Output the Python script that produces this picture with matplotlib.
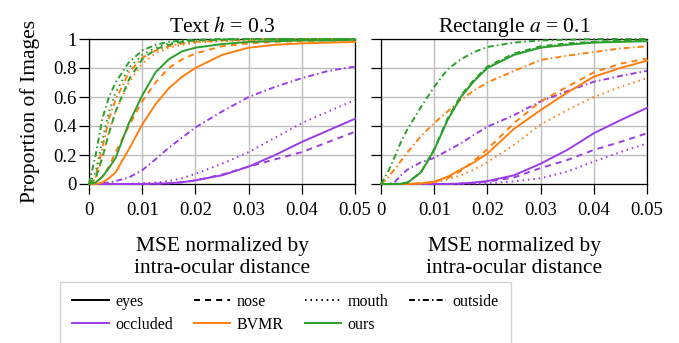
import matplotlib
matplotlib.use('Agg')
import matplotlib.pyplot as plt
from matplotlib.lines import Line2D

plt.rcParams['font.family'] = ['Liberation Serif', 'DejaVu Serif']
plt.rcParams['mathtext.fontset'] = 'stix'

# MSE sample positions
mse = [0, 0.00125, 0.0025, 0.00375, 0.005, 0.0075, 0.01, 0.0125, 0.015,
       0.0175, 0.02, 0.025, 0.03, 0.035, 0.04, 0.045, 0.05]

# Text h = 0.3
text_occ_eyes = [0, 0, 0, 0, 0, 0, 0, 0.002, 0.005, 0.012, 0.025, 0.06, 0.12, 0.2, 0.29, 0.37, 0.45]
text_occ_nose = [0, 0, 0, 0, 0, 0, 0, 0.002, 0.005, 0.012, 0.025, 0.065, 0.12, 0.17, 0.22, 0.29, 0.36]
text_occ_mouth = [0, 0, 0, 0, 0, 0.002, 0.005, 0.01, 0.02, 0.04, 0.07, 0.14, 0.22, 0.32, 0.42, 0.5, 0.58]
text_occ_out = [0, 0, 0.005, 0.01, 0.02, 0.045, 0.095, 0.17, 0.25, 0.32, 0.39, 0.5, 0.6, 0.67, 0.73, 0.78, 0.81]
text_bv_eyes = [0, 0, 0.01, 0.04, 0.08, 0.24, 0.41, 0.55, 0.66, 0.74, 0.8, 0.89, 0.94, 0.96, 0.97, 0.975, 0.98]
text_bv_nose = [0, 0.01, 0.05, 0.12, 0.22, 0.4, 0.57, 0.7, 0.8, 0.86, 0.9, 0.95, 0.97, 0.98, 0.985, 0.99, 0.99]
text_bv_mouth = [0, 0.03, 0.18, 0.36, 0.5, 0.7, 0.83, 0.9, 0.94, 0.96, 0.975, 0.985, 0.99, 0.995, 1, 1, 1]
text_bv_out = [0, 0.05, 0.25, 0.45, 0.58, 0.77, 0.87, 0.92, 0.95, 0.97, 0.98, 0.99, 0.995, 1, 1, 1, 1]
text_ours_eyes = [0, 0.01, 0.05, 0.11, 0.18, 0.42, 0.61, 0.77, 0.86, 0.915, 0.94, 0.965, 0.98, 0.985, 0.99, 0.99, 0.995]
text_ours_nose = [0, 0.04, 0.18, 0.35, 0.5, 0.72, 0.86, 0.93, 0.96, 0.98, 0.99, 0.995, 1, 1, 1, 1, 1]
text_ours_mouth = [0, 0.08, 0.3, 0.5, 0.63, 0.8, 0.89, 0.94, 0.97, 0.98, 0.99, 0.995, 1, 1, 1, 1, 1]
text_ours_out = [0, 0.2, 0.45, 0.6, 0.7, 0.84, 0.92, 0.96, 0.98, 0.99, 0.995, 1, 1, 1, 1, 1, 1]

# Rectangle a = 0.1
rect_occ_eyes = [0, 0, 0, 0, 0, 0, 0, 0, 0.003, 0.01, 0.02, 0.06, 0.14, 0.235, 0.35, 0.44, 0.525]
rect_occ_nose = [0, 0, 0, 0, 0, 0, 0, 0, 0.003, 0.008, 0.017, 0.045, 0.11, 0.165, 0.235, 0.29, 0.35]
rect_occ_mouth = [0, 0, 0, 0, 0, 0, 0, 0, 0, 0.002, 0.005, 0.018, 0.04, 0.085, 0.155, 0.22, 0.28]
rect_occ_out = [0, 0, 0.01, 0.06, 0.1, 0.15, 0.18, 0.23, 0.28, 0.34, 0.395, 0.475, 0.57, 0.64, 0.705, 0.745, 0.78]
rect_bv_eyes = [0, 0, 0, 0, 0, 0.005, 0.015, 0.05, 0.1, 0.15, 0.21, 0.38, 0.51, 0.63, 0.74, 0.8, 0.85]
rect_bv_nose = [0, 0, 0, 0, 0, 0.005, 0.015, 0.04, 0.09, 0.16, 0.24, 0.42, 0.57, 0.67, 0.77, 0.83, 0.865]
rect_bv_mouth = [0, 0, 0, 0, 0, 0, 0.01, 0.03, 0.06, 0.1, 0.15, 0.27, 0.41, 0.51, 0.6, 0.67, 0.73]
rect_bv_out = [0, 0.04, 0.1, 0.16, 0.22, 0.33, 0.42, 0.5, 0.58, 0.645, 0.7, 0.78, 0.855, 0.885, 0.91, 0.935, 0.95]
rect_ours_eyes = [0, 0, 0, 0.002, 0.01, 0.08, 0.235, 0.44, 0.6, 0.71, 0.8, 0.89, 0.94, 0.96, 0.975, 0.98, 0.985]
rect_ours_nose = [0, 0, 0, 0.002, 0.01, 0.08, 0.24, 0.45, 0.61, 0.72, 0.81, 0.9, 0.95, 0.97, 0.98, 0.99, 0.99]
rect_ours_mouth = [0, 0, 0, 0.002, 0.01, 0.08, 0.235, 0.44, 0.6, 0.715, 0.805, 0.895, 0.945, 0.965, 0.98, 0.985, 0.99]
rect_ours_out = [0, 0.08, 0.18, 0.29, 0.38, 0.53, 0.67, 0.79, 0.86, 0.91, 0.945, 0.975, 0.99, 0.995, 1, 1, 1]

regions = ['eyes', 'nose', 'mouth', 'outside']
methods = ['occluded', 'BVMR', 'ours']
titles = ['Text $h$ = 0.3', 'Rectangle $a$ = 0.1']
xticks = [0, 0.01, 0.02, 0.03, 0.04, 0.05]
xticklabels = ['0', '0.01', '0.02', '0.03', '0.04', '0.05']
yticks = [0, 0.2, 0.4, 0.6, 0.8, 1]
yticklabels = ['0', '0.2', '0.4', '0.6', '0.8', '1']

panels = [
    {'occluded': [text_occ_eyes, text_occ_nose, text_occ_mouth, text_occ_out],
     'BVMR': [text_bv_eyes, text_bv_nose, text_bv_mouth, text_bv_out],
     'ours': [text_ours_eyes, text_ours_nose, text_ours_mouth, text_ours_out]},
    {'occluded': [rect_occ_eyes, rect_occ_nose, rect_occ_mouth, rect_occ_out],
     'BVMR': [rect_bv_eyes, rect_bv_nose, rect_bv_mouth, rect_bv_out],
     'ours': [rect_ours_eyes, rect_ours_nose, rect_ours_mouth, rect_ours_out]},
]

colores = {'occluded': '#9b3de6', 'BVMR': '#ff7f0e', 'ours': '#2ca02c'}
estilos = {'eyes': '-', 'nose': (0, (3.1, 2.6)), 'mouth': (0, (0.8, 2.0)),
           'outside': (0, (3.1, 1.6, 0.8, 1.6))}
lw = 1.4

fig = plt.figure(figsize=(6.79, 3.43), dpi=100)
ax_left = [89 / 679, 381 / 679]
for k, datos in enumerate(panels):
    ax = fig.add_axes([ax_left[k], 1 - 184 / 343, 266 / 679, 145 / 343])
    for m in methods:
        for r, serie in zip(regions, datos[m]):
            ax.plot(mse, serie, color=colores[m], linestyle=estilos[r], lw=lw,
                    clip_on=False, zorder=3)
    ax.set_xlim(0, 0.05)
    ax.set_ylim(0, 1)
    ax.set_xticks(xticks)
    ax.set_xticklabels(xticklabels)
    ax.set_yticks(yticks)
    if k == 0:
        ax.set_yticklabels(yticklabels)
        ax.set_ylabel('Proportion of Images', fontsize=15.5, labelpad=9)
    else:
        ax.set_yticklabels([])
    ax.grid(True, color='#bdbdbd', lw=1.0, zorder=0)
    ax.tick_params(direction='out', length=7.5, width=0.9, labelsize=13.5)
    ax.tick_params(axis='x', pad=5.5)
    ax.tick_params(axis='y', pad=1.5)
    for s in ax.spines.values():
        s.set_linewidth(0.9)
    ax.set_title(titles[k], fontsize=15.5, pad=5)
    ax.set_xlabel('MSE normalized by\nintra-ocular distance', fontsize=15.5,
                  labelpad=13, linespacing=1.2)

# Leyenda
handles = []
labels = []
orden = [('eyes', None), ('occluded', 'c'), ('nose', None), ('BVMR', 'c'),
         ('mouth', None), ('ours', 'c'), ('outside', None)]
for nombre, tipo in orden:
    if tipo is None:
        handles.append(Line2D([], [], color='black', linestyle=estilos[nombre], lw=lw))
    else:
        handles.append(Line2D([], [], color=colores[nombre], lw=lw))
    labels.append(nombre)
fig.legend(handles, labels, ncol=4, loc='upper left',
           bbox_to_anchor=(60 / 679, 1 - 282 / 343), fontsize=11.5,
           frameon=True, fancybox=False, edgecolor='#c8c8c8',
           handlelength=2.3, handletextpad=0.4, columnspacing=1.3,
           labelspacing=0.42, borderaxespad=0, borderpad=0.75)

fig.savefig('out.png', dpi=100)
